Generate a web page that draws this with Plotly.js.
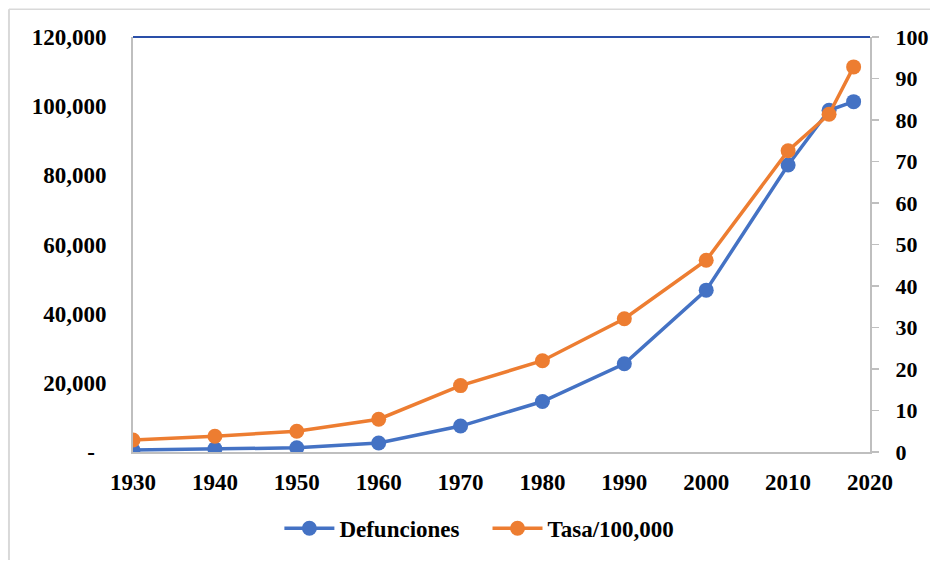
<!DOCTYPE html>
<html>
<head>
<meta charset="utf-8">
<script src="https://cdn.plot.ly/plotly-3.0.1.min.js"></script>
<style>
html,body{margin:0;padding:0;background:#fff;}
#chart{width:930px;height:562px;}
</style>
</head>
<body>
<div id="chart"></div>
<script>
// Data
const years = [1930, 1940, 1950, 1960, 1970, 1980, 1990, 2000, 2010, 2015, 2018];
const defunciones = [600, 900, 1200, 2600, 7500, 14600, 25500, 46800, 83000, 98800, 101300];
const tasa = [2.9, 3.8, 5.0, 7.9, 16.0, 22.0, 32.1, 46.2, 72.6, 81.4, 92.8];
const leftTickVals = [0, 20000, 40000, 60000, 80000, 100000, 120000];
const leftTickText = ["-\u00a0\u00a0", "20,000", "40,000", "60,000", "80,000", "100,000", "120,000"];
const rightTickVals = [0, 10, 20, 30, 40, 50, 60, 70, 80, 90, 100];
const xTickVals = [1930, 1940, 1950, 1960, 1970, 1980, 1990, 2000, 2010, 2020];
const seriesNames = ['Defunciones', 'Tasa/100,000'];

const boldFont = {family: 'Liberation Serif, Times New Roman, serif', size: 23, color: '#000', weight: 700};
const rightFont = Object.assign({}, boldFont, {size: 22});

const traces = [
  {
    x: years, y: defunciones, name: seriesNames[0] + '\u00a0\u00a0\u00a0\u00a0', type: 'scatter', mode: 'lines+markers',
    line: {color: '#4472C4', width: 3.5}, marker: {color: '#4472C4', size: 15},
    yaxis: 'y'
  },
  {
    x: years, y: tasa, name: seriesNames[1], type: 'scatter', mode: 'lines+markers',
    line: {color: '#ED7D31', width: 3.5}, marker: {color: '#ED7D31', size: 15},
    yaxis: 'y2'
  }
];

const layout = {
  width: 930, height: 562,
  margin: {l: 133, r: 60, t: 37, b: 107},
  paper_bgcolor: '#fff', plot_bgcolor: '#fff',
  font: boldFont,
  showlegend: true,
  legend: {orientation: 'h', x: 0.47, xanchor: 'center', y: -0.184, yanchor: 'middle',
           font: boldFont, itemwidth: 50, tracegroupgap: 0},
  xaxis: {
    range: [1930, 2020], tickvals: xTickVals, showgrid: false, zeroline: false,
    showline: true, linecolor: '#BFBFBF', linewidth: 2, ticks: '',
    tickfont: boldFont, ticklabelstandoff: 8
  },
  yaxis: {
    range: [0, 120000], tickvals: leftTickVals, ticktext: leftTickText,
    showgrid: false, zeroline: false, showline: true, linecolor: '#BFBFBF', linewidth: 2,
    ticks: '', tickfont: boldFont, ticklabelstandoff: 20
  },
  yaxis2: {
    range: [0, 100], tickvals: rightTickVals, overlaying: 'y', side: 'right',
    showgrid: false, zeroline: false, showline: true, linecolor: '#BFBFBF', linewidth: 2,
    ticks: 'outside', ticklen: 7, tickcolor: '#BFBFBF', tickwidth: 1.5,
    tickfont: rightFont, ticklabelstandoff: 12
  },
  shapes: [
    {type: 'line', xref: 'paper', yref: 'paper', x0: 0, x1: 1, y0: 1, y1: 1,
     line: {color: '#2A4FA8', width: 2}},
    {type: 'line', xref: 'paper', yref: 'paper', x0: -0.1683, x1: -0.1683, y0: 1.067, y1: -0.26,
     line: {color: '#D9D9D9', width: 2}},
    {type: 'line', xref: 'paper', yref: 'paper', x0: -0.1683, x1: 1.09, y0: 1.067, y1: 1.067,
     line: {color: '#D9D9D9', width: 1.5}}
  ]
};

Plotly.newPlot('chart', traces, layout, {displayModeBar: false, staticPlot: true});
</script>
</body>
</html>
